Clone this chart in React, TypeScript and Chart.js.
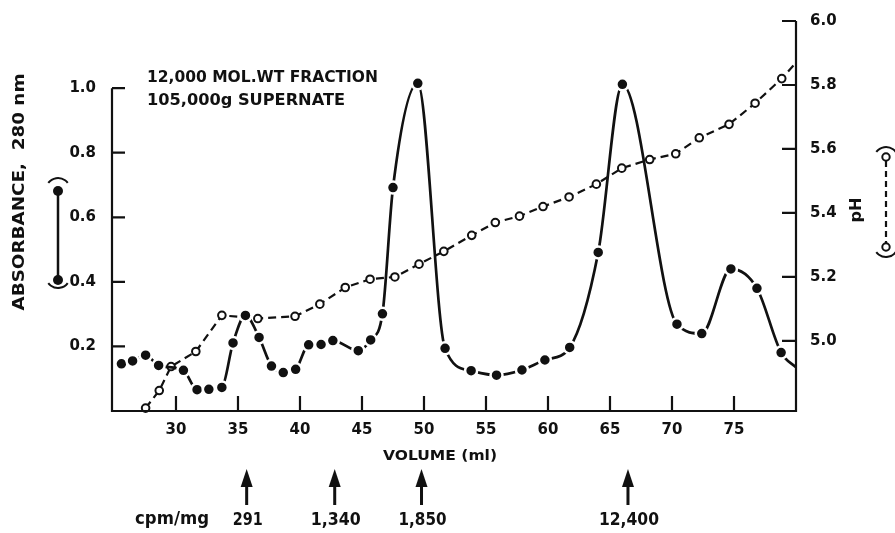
import React, { useEffect, useRef } from 'react';
import { Chart, registerables } from 'chart.js';

Chart.register(...registerables);

// ---- data ----
const volumeTicks = [30, 35, 40, 45, 50, 55, 60, 65, 70, 75];
const absorbanceTicks = [0.2, 0.4, 0.6, 0.8, 1.0];
const phTicks = [5.0, 5.2, 5.4, 5.6, 5.8, 6.0];

// Absorbance at 280 nm (filled circles); last value is where the curve meets the right axis
const absVolume = [25.6, 26.5, 27.55, 28.6, 30.6, 31.7, 32.65, 33.7, 34.6, 35.6, 36.7, 37.7, 38.65, 39.65, 40.7, 41.7, 42.65, 44.7, 45.7, 46.65, 47.5, 49.5, 51.7, 53.8, 55.85, 57.9, 59.75, 61.75, 64.05, 66.0, 70.4, 72.4, 74.75, 76.85, 78.8, 80.0];
const absorbance = [0.146, 0.155, 0.173, 0.141, 0.126, 0.066, 0.067, 0.073, 0.211, 0.296, 0.228, 0.139, 0.119, 0.129, 0.205, 0.206, 0.218, 0.187, 0.22, 0.301, 0.692, 1.015, 0.194, 0.125, 0.111, 0.127, 0.158, 0.197, 0.491, 1.012, 0.269, 0.24, 0.44, 0.38, 0.181, 0.135];

// pH (open circles); last value is where the line meets the right axis
const phVolume = [27.55, 28.65, 29.6, 31.6, 33.7, 36.6, 39.6, 41.6, 43.65, 45.65, 47.65, 49.6, 51.6, 53.85, 55.75, 57.7, 59.6, 61.7, 63.9, 65.95, 68.2, 70.3, 72.2, 74.6, 76.7, 78.85, 80.0];
const ph = [4.79, 4.845, 4.92, 4.967, 5.08, 5.07, 5.077, 5.115, 5.167, 5.193, 5.2, 5.24, 5.28, 5.33, 5.37, 5.39, 5.42, 5.45, 5.49, 5.54, 5.567, 5.585, 5.635, 5.677, 5.743, 5.82, 5.87];

// Specific activity arrows
const cpmVolume = [35.7, 42.8, 49.8, 66.45];
const cpmLabels = ['291', '1,340', '1,850', '12,400'];

const titleLines = ['12,000 MOL.WT FRACTION', '105,000g SUPERNATE'];
const xTitle = 'VOLUME (ml)';
const yLeftTitle = 'ABSORBANCE,  280 nm';
const yRightTitle = 'pH';
const cpmTitle = 'cpm/mg';

const FONT = '"DejaVu Sans", sans-serif';
const INK = '#111';

function fitText(ctx: CanvasRenderingContext2D, text: string, x: number, y: number, width: number, size: number, align: CanvasTextAlign, rotate = 0) {
  ctx.save();
  ctx.font = `bold ${size}px ${FONT}`;
  const w = ctx.measureText(text).width;
  ctx.translate(x, y);
  if (rotate) ctx.rotate(rotate);
  ctx.scale(width / w, 1);
  ctx.textAlign = align;
  ctx.textBaseline = 'middle';
  ctx.fillStyle = INK;
  ctx.fillText(text, 0, 0);
  ctx.restore();
}

const axesPlugin = {
  id: 'axesDraw',
  afterDatasetsDraw(chart: any) {
    const { ctx, chartArea, scales } = chart;
    const { left, right, bottom } = chartArea;
    const yA = scales.yA, yP = scales.yP, x = scales.x;
    const topL = yA.getPixelForValue(1.0);
    const topR = yP.getPixelForValue(6.0);
    ctx.save();
    ctx.strokeStyle = INK;
    ctx.lineWidth = 2.2;
    ctx.beginPath();
    ctx.moveTo(left, topL);
    ctx.lineTo(left, bottom);
    ctx.lineTo(right, bottom);
    ctx.lineTo(right, topR);
    ctx.stroke();
    ctx.beginPath();
    absorbanceTicks.forEach((v) => {
      const p = yA.getPixelForValue(v);
      ctx.moveTo(left, p);
      ctx.lineTo(left + 13, p);
    });
    phTicks.forEach((v) => {
      const p = yP.getPixelForValue(v);
      ctx.moveTo(right, p);
      ctx.lineTo(right - 14, p);
    });
    volumeTicks.forEach((v) => {
      const p = x.getPixelForValue(v);
      ctx.moveTo(p, bottom);
      ctx.lineTo(p, bottom - 15);
    });
    ctx.stroke();
    ctx.restore();
  },
};

const annotPlugin = {
  id: 'annot',
  afterDraw(chart: any) {
    const { ctx, scales } = chart;
    const x = scales.x;
    ctx.save();
    // header
    fitText(ctx, titleLines[0], 147, 78, 231, 16, 'left');
    fitText(ctx, titleLines[1], 147, 101, 198, 16, 'left');
    // axis titles
    fitText(ctx, xTitle, 440, 456, 114, 14, 'center');
    fitText(ctx, yLeftTitle, 20, 192, 237, 15, 'center', -Math.PI / 2);
    fitText(ctx, yRightTitle, 857, 210, 25, 16, 'center', -Math.PI / 2);
    // cpm/mg row
    fitText(ctx, cpmTitle, 172, 520, 74, 17, 'center');
    const widths = [30, 50, 48, 60];
    cpmVolume.forEach((v, i) => {
      const px = x.getPixelForValue(v);
      ctx.fillStyle = INK;
      ctx.beginPath();
      ctx.moveTo(px, 469);
      ctx.lineTo(px - 6, 487);
      ctx.lineTo(px + 6, 487);
      ctx.closePath();
      ctx.fill();
      ctx.fillRect(px - 1.5, 485, 3, 20);
      fitText(ctx, cpmLabels[i], px + 1, 520, widths[i], 18, 'center');
    });

    // left legend glyph ( ●——● ) rotated
    ctx.strokeStyle = INK;
    ctx.fillStyle = INK;
    ctx.lineWidth = 2.5;
    ctx.beginPath();
    ctx.moveTo(58, 191);
    ctx.lineTo(58, 280);
    ctx.stroke();
    [191, 280].forEach((yy) => {
      ctx.beginPath();
      ctx.arc(58, yy, 5, 0, Math.PI * 2);
      ctx.fill();
    });
    ctx.lineWidth = 2;
    ctx.beginPath();
    ctx.arc(58, 190, 12, -Math.PI * 0.8, -Math.PI * 0.2);
    ctx.stroke();
    ctx.beginPath();
    ctx.arc(58, 276, 12, Math.PI * 0.2, Math.PI * 0.8);
    ctx.stroke();

    // right legend glyph ( ○- - -○ ) rotated
    ctx.lineWidth = 2.2;
    ctx.setLineDash([6, 4]);
    ctx.beginPath();
    ctx.moveTo(886, 161);
    ctx.lineTo(886, 243);
    ctx.stroke();
    ctx.setLineDash([]);
    [157, 247].forEach((yy) => {
      ctx.beginPath();
      ctx.arc(886, yy, 3.7, 0, Math.PI * 2);
      ctx.fillStyle = '#fff';
      ctx.fill();
      ctx.lineWidth = 2;
      ctx.stroke();
    });
    ctx.beginPath();
    ctx.arc(886, 159, 12, -Math.PI * 0.8, -Math.PI * 0.2);
    ctx.stroke();
    ctx.beginPath();
    ctx.arc(886, 245, 12, Math.PI * 0.2, Math.PI * 0.8);
    ctx.stroke();
    ctx.restore();
  },
};

export default function App() {
  const ref = useRef<HTMLCanvasElement | null>(null);

  useEffect(() => {
    if (!ref.current) return;
    const absData = absVolume.map((v, i) => ({ x: v, y: absorbance[i] }));
    const phData = phVolume.map((v, i) => ({ x: v, y: ph[i] }));
    const tickFont = { family: FONT, size: 15, weight: 'bold' as const };
    const chart = new Chart(ref.current, {
      type: 'line',
      data: {
        datasets: [
          {
            label: 'Absorbance 280 nm',
            data: absData,
            yAxisID: 'yA',
            borderColor: INK,
            borderWidth: 2.7,
            cubicInterpolationMode: 'monotone',
            pointRadius: (c: any) => (c.dataIndex === absVolume.length - 1 ? 0 : 6),
            pointBackgroundColor: INK,
            pointBorderColor: '#fff',
            pointBorderWidth: 2.5,
            clip: false,
          },
          {
            label: 'pH',
            data: phData,
            yAxisID: 'yP',
            borderColor: INK,
            borderWidth: 2.2,
            borderDash: [8, 5],
            tension: 0,
            pointRadius: (c: any) => (c.dataIndex === phVolume.length - 1 ? 0 : 3.8),
            pointBackgroundColor: '#fff',
            pointBorderColor: INK,
            pointBorderWidth: 2,
            clip: false,
          },
        ],
      },
      options: {
        responsive: false,
        animation: false,
        layout: { padding: { top: 21, left: 0, right: 0, bottom: 0 } },
        plugins: { legend: { display: false }, tooltip: { enabled: false } },
        scales: {
          x: {
            type: 'linear',
            min: 24.84,
            max: 80.0,
            grid: { display: false },
            border: { display: false },
            ticks: { font: tickFont, color: INK, padding: 2, callback: (v: any) => String(v) },
            afterBuildTicks: (s: any) => { s.ticks = volumeTicks.map((v) => ({ value: v })); },
            afterFit: (s: any) => { s.height = 122; },
          },
          yA: {
            type: 'linear',
            position: 'left',
            min: 0,
            max: 1.208,
            grid: { display: false },
            border: { display: false },
            ticks: { font: tickFont, color: INK, padding: 8, callback: (v: any) => Number(v).toFixed(1) },
            afterBuildTicks: (s: any) => { s.ticks = absorbanceTicks.map((v) => ({ value: v })); },
            afterFit: (s: any) => { s.width = 112; },
          },
          yP: {
            type: 'linear',
            position: 'right',
            min: 4.781,
            max: 6.0,
            grid: { display: false },
            border: { display: false },
            ticks: { font: tickFont, color: INK, padding: 6, callback: (v: any) => Number(v).toFixed(1) },
            afterBuildTicks: (s: any) => { s.ticks = phTicks.map((v) => ({ value: v })); },
            afterFit: (s: any) => { s.width = 99; },
          },
        },
      },
      plugins: [axesPlugin, annotPlugin],
    });
    return () => chart.destroy();
  }, []);

  return (
    <div style={{ position: 'fixed', left: 0, top: 0, width: 895, height: 533, background: '#fff' }}>
      <canvas ref={ref} width={895} height={533} style={{ width: 895, height: 533, display: 'block' }} />
    </div>
  );
}
